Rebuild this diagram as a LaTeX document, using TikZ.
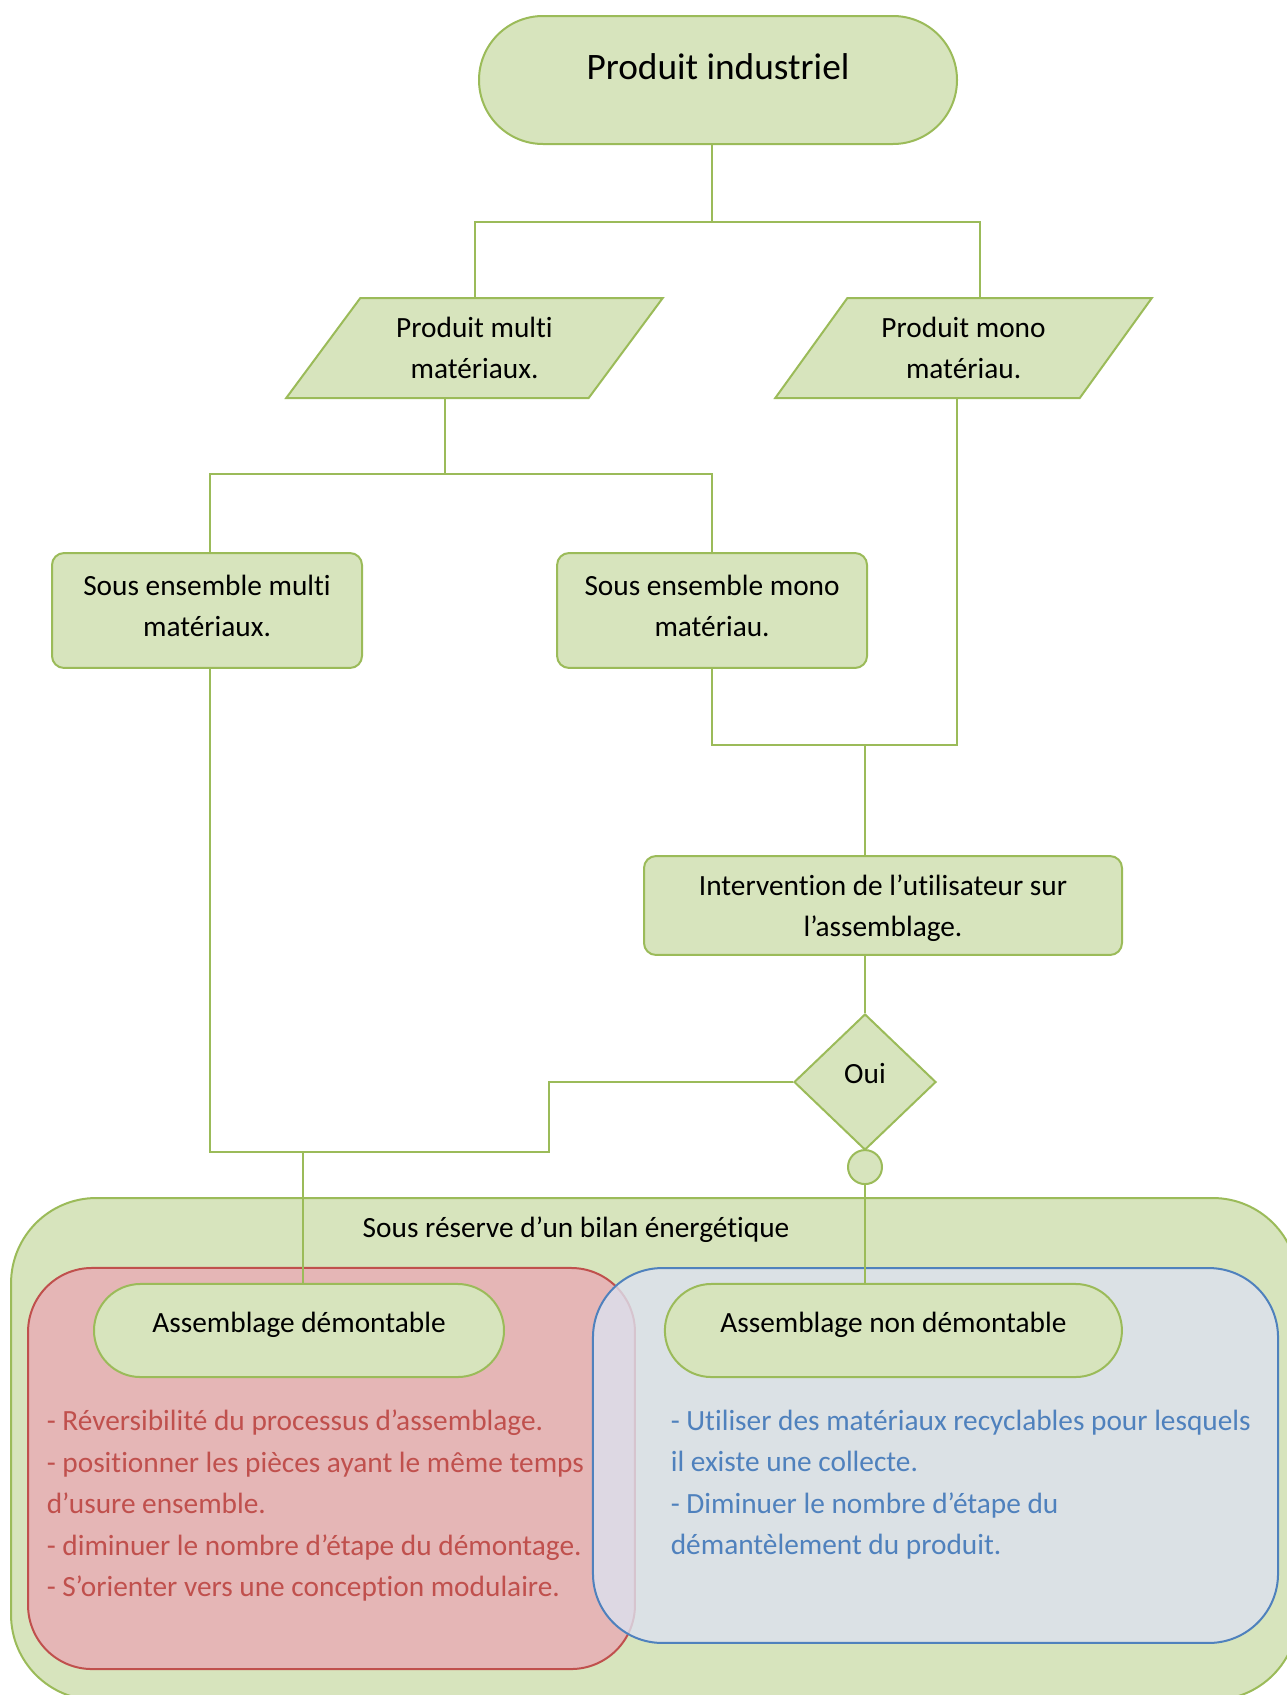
\documentclass[tikz,border=0pt]{standalone}
\usepackage{fontspec}
\setmainfont{Carlito}[Ligatures=NoCommon]
\usetikzlibrary{shapes,arrows}

\definecolor{olivefill}{HTML}{D7E4BD}
\definecolor{oliveline}{HTML}{9BBB59}
\definecolor{redfill}{HTML}{E5B6B6}
\definecolor{redline}{HTML}{C0504D}
\definecolor{bluefill}{RGB}{220,225,239}
\definecolor{blueline}{HTML}{4F81BD}

\begin{document}
\begin{tikzpicture}[x=0.375pt, y=-0.375pt, node distance=2cm, semithick,
    font=\fontsize{11}{15.4}\selectfont]
  \tikzstyle{base} = [draw=oliveline, fill=olivefill, line width=0.75pt,
    text=black, align=center]
  \tikzstyle{terminator} = [base, rounded rectangle, inner sep=0pt]
  \tikzstyle{io} = [base, trapezium, trapezium left angle=53.13,
    trapezium right angle=126.87, trapezium stretches=true,
    minimum width=141.4pt, minimum height=37.5pt, inner sep=2pt]
  \tikzstyle{block} = [base, rectangle, rounded corners=4.5pt,
    minimum width=116.25pt, minimum height=43.1pt, text depth=3.2pt]
  \tikzstyle{decision} = [base, diamond, minimum width=53.25pt,
    minimum height=51pt, inner sep=0pt]
  \tikzstyle{joint} = [base, circle, minimum size=12.75pt, inner sep=0pt]
  \tikzstyle{zone} = [rectangle, line width=0.75pt, inner sep=0pt]
  \tikzstyle{note} = [align=left, anchor=north west, inner sep=0pt,
    font=\fontsize{11}{15.6}\selectfont]
  \tikzstyle{line} = [draw=oliveline, line width=0.75pt]

  \useasboundingbox (0,0) rectangle (1286,1695);

  % Zones
  \node [zone, draw=oliveline, fill=olivefill, rounded corners=32pt,
    minimum width=482.6pt, minimum height=188.25pt] (bilan) at (654.5,1449) {};
  \node [zone, draw=redline, fill=redfill, rounded corners=24pt,
    minimum width=227.6pt, minimum height=150.4pt] (demzone) at (331.5,1468.5) {};
  \node [zone, draw=blueline, fill=bluefill, fill opacity=0.8, rounded corners=26pt,
    minimum width=256.9pt, minimum height=140.6pt] (nondemzone) at (935.5,1455.5) {};

  % Place nodes
  \node [terminator, minimum width=179.25pt, minimum height=48pt,
    font=\fontsize{14}{17}\selectfont, text depth=10.2pt] (prod) at (718,80)
    {Produit industriel};
  \node [io] (pmulti) at (474.5,348) {Produit multi\\matériaux.};
  \node [io, right of=pmulti, node distance=183.4pt] (pmono) {Produit mono\\matériau.};
  \node [block] (semulti) at (207,610.5) {Sous ensemble multi\\matériaux.};
  \node [block, right of=semulti, node distance=189.4pt] (semono)
    {Sous ensemble mono\\matériau.};
  \node [block, minimum width=179.25pt, minimum height=37.1pt, text depth=0pt]
    (interv) at (883,905.5) {Intervention de l’utilisateur sur\\l’assemblage.};
  \node [decision, text depth=6.8pt] (oui) at (865,1082) {Oui};
  \node [joint, below of=oui, node distance=31.9pt] (circ) {};

  \node [inner sep=0pt] (bilantxt) at (576,1230) {Sous réserve d’un bilan énergétique};
  \node [terminator, minimum width=153.75pt, minimum height=34.9pt,
    text depth=5.8pt] (asmdem) at (299,1330.5) {Assemblage démontable};
  \node [terminator, minimum width=171.4pt, minimum height=34.9pt, text depth=5.8pt,
    right of=asmdem, node distance=222.9pt] (asmnon) {Assemblage non démontable};

  \node [note, text=redline] (demlist) at (46,1409)
    {- Réversibilité du processus d’assemblage.\\
     - positionner les pièces ayant le même temps\\
     d’usure ensemble.\\
     - diminuer le nombre d’étape du démontage.\\
     - S’orienter vers une conception modulaire.};
  \node [note, text=blueline] (nondemlist) at (670,1409)
    {- Utiliser des matériaux recyclables pour lesquels\\
     il existe une collecte.\\
     - Diminuer le nombre d’étape du\\
     démantèlement du produit.};

  % Draw edges
  \coordinate (join) at (865,745);
  \coordinate (elbow) at (549,1152);

  \path [line] ([xshift=-2.25pt]prod.south) -- ++(0,77) -| (pmulti.north);
  \path [line] ([xshift=-2.25pt]prod.south) -- ++(0,77) -| ([xshift=6.2pt]pmono.north);

  \path [line] ([xshift=-11.25pt]pmulti.south) -- ++(0,75) -| ([xshift=1.1pt]semulti.north);
  \path [line] ([xshift=-11.25pt]pmulti.south) -- ++(0,75) -| (semono.north);

  \path [line] ([xshift=-2.4pt]pmono.south) |- (join);
  \path [line] (semono.south) |- (join);
  \path [line] (join) -- (interv.north -| join);

  \path [line] (interv.south -| oui) -- (oui.north);
  \path [line] (circ.south) -- (asmnon.north -| circ);

  \path [line] (oui.west) -| (elbow) -| ([xshift=1.1pt]semulti.south);
  \path [line] ([xshift=1.5pt]asmdem.north |- elbow) -- ([xshift=1.5pt]asmdem.north);

\end{tikzpicture}
\end{document}
